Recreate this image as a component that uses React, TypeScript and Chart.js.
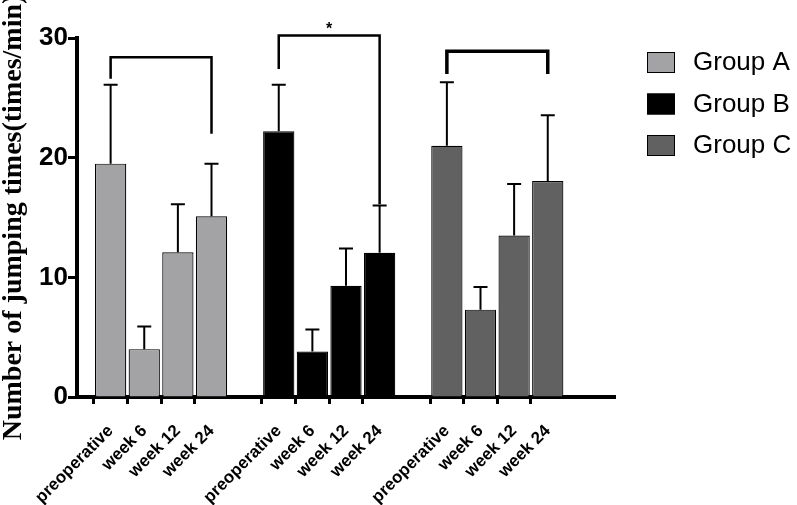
import React, { useEffect, useRef } from 'react';
import { Chart, registerables } from 'chart.js';

Chart.register(...registerables);

// ---- data ----
const timepoints = ['preoperative', 'week 6', 'week 12', 'week 24'];
const groupNames = ['Group A', 'Group B', 'Group C'];
const groupAMeans = [19.5, 4.0, 12.1, 15.1];
const groupBMeans = [22.2, 3.8, 9.3, 12.05];
const groupCMeans = [21.0, 7.3, 13.5, 18.05];
const groupAErr = [6.6, 1.9, 4.0, 4.4];
const groupBErr = [3.9, 1.85, 3.1, 3.95];
const groupCErr = [5.3, 1.9, 4.3, 5.5];
const yTicks = [0, 10, 20, 30];
// significance brackets: preoperative vs week 24 in each group
const bracketTop = [28.4, 30.2, 28.9];
const bracketLeftEnd = [26.6, 27.4, 27.0];
const bracketRightEnd = [22.0, 16.1, 27.0];
const bracketMarks = ['', '*', ''];

const groupColors = ['#a3a3a5', '#000000', '#616161'];

const allMeans = [groupAMeans, groupBMeans, groupCMeans];
const allErrs = [groupAErr, groupBErr, groupCErr];

// category axis: blank slot before each group and two at the end
const categoryLabels: string[] = [''];
groupNames.forEach(() => {
  timepoints.forEach((t) => categoryLabels.push(t));
  categoryLabels.push('');
});
categoryLabels.push('');

const slotIndex = (g: number, t: number) => 1 + g * 5 + t;

const datasetData = (g: number) => {
  const arr: (number | null)[] = categoryLabels.map(() => null);
  allMeans[g].forEach((v, t) => {
    arr[slotIndex(g, t)] = v;
  });
  return arr;
};

const overlayPlugin = {
  id: 'overlay',
  afterDatasetsDraw(chart: any) {
    const { ctx, scales } = chart;
    const x = scales.x;
    const y = scales.y;
    ctx.save();
    ctx.strokeStyle = '#000';
    ctx.lineCap = 'butt';
    // error bars (upper only)
    ctx.lineWidth = 2;
    allMeans.forEach((arr, g) => {
      arr.forEach((m, t) => {
        const px = x.getPixelForValue(slotIndex(g, t));
        const y0 = y.getPixelForValue(m);
        const y1 = y.getPixelForValue(m + allErrs[g][t]);
        ctx.beginPath();
        ctx.moveTo(px, y0);
        ctx.lineTo(px, y1);
        ctx.moveTo(px - 7, y1);
        ctx.lineTo(px + 7, y1);
        ctx.stroke();
      });
    });
    // brackets
    groupNames.forEach((_, g) => {
      const xl = x.getPixelForValue(slotIndex(g, 0));
      const xr = x.getPixelForValue(slotIndex(g, 3));
      const yt = y.getPixelForValue(bracketTop[g]);
      const yl = y.getPixelForValue(bracketLeftEnd[g]);
      const yr = y.getPixelForValue(bracketRightEnd[g]);
      ctx.lineWidth = g === 2 ? 3.5 : 2.5;
      ctx.lineJoin = 'miter';
      ctx.beginPath();
      ctx.moveTo(xl, yl);
      ctx.lineTo(xl, yt);
      ctx.lineTo(xr, yt);
      ctx.lineTo(xr, yr);
      ctx.stroke();
      if (bracketMarks[g]) {
        ctx.fillStyle = '#000';
        ctx.font = 'bold 16px "Liberation Sans", Arial, sans-serif';
        ctx.textAlign = 'center';
        ctx.textBaseline = 'bottom';
        ctx.fillText(bracketMarks[g], (xl + xr) / 2, yt + 2);
      }
    });
    ctx.restore();
  },
  afterDraw(chart: any) {
    const { ctx, chartArea } = chart;
    ctx.save();
    chart.data.datasets.forEach((ds: any, i: number) => {
      const bx = chartArea.right + 32;
      const by = chartArea.top + 14 + i * 41.5;
      ctx.fillStyle = ds.backgroundColor;
      ctx.fillRect(bx, by, 28, 21);
      ctx.strokeStyle = '#000';
      ctx.lineWidth = 1;
      ctx.strokeRect(bx + 0.5, by + 0.5, 27, 20);
      ctx.fillStyle = '#000';
      ctx.font = '26px "Liberation Sans", Arial, sans-serif';
      ctx.textAlign = 'left';
      ctx.textBaseline = 'middle';
      ctx.fillText(ds.label, bx + 46, by + 11);
    });
    ctx.restore();
  },
};

export default function App() {
  const canvasRef = useRef<HTMLCanvasElement | null>(null);

  useEffect(() => {
    if (!canvasRef.current) return;
    const chart = new Chart(canvasRef.current, {
      type: 'bar',
      data: {
        labels: categoryLabels,
        datasets: groupNames.map((name, g) => ({
          label: name,
          data: datasetData(g),
          backgroundColor: groupColors[g],
          borderColor: '#000',
          borderWidth: 1.2,
          grouped: false,
          skipNull: true,
          barPercentage: 0.93,
          categoryPercentage: 1,
        })),
      },
      options: {
        animation: false,
        responsive: false,
        devicePixelRatio: 1,
        layout: { padding: { top: 38, right: 182, left: 0, bottom: 0 } },
        plugins: {
          legend: { display: false },
          tooltip: { enabled: false },
        },
        scales: {
          x: {
            type: 'category',
            offset: false,
            grid: {
              drawOnChartArea: false,
              drawTicks: true,
              tickLength: 7,
              tickWidth: 3,
              tickColor: (c: any) => (categoryLabels[c.index] ? '#000' : 'rgba(0,0,0,0)'),
            },
            border: { color: '#000', width: 4 },
            ticks: {
              autoSkip: false,
              maxRotation: 45,
              minRotation: 45,
              padding: 17,
              color: '#000',
              font: { family: '"Liberation Sans", Arial, sans-serif', size: 17, weight: 'bold' },
            },
            afterFit: (s: any) => {
              s.height = 108;
            },
          },
          y: {
            min: 0,
            max: 30,
            afterBuildTicks: (s: any) => {
              s.ticks = yTicks.map((v) => ({ value: v }));
            },
            grid: {
              drawOnChartArea: false,
              drawTicks: true,
              tickLength: 9,
              tickWidth: 3,
              tickColor: '#000',
            },
            border: { color: '#000', width: 4 },
            ticks: {
              padding: 0,
              color: '#000',
              font: { family: '"Liberation Sans", Arial, sans-serif', size: 26, weight: 'bold' },
            },
            title: {
              display: true,
              text: 'Number of jumping times(times/min)',
              color: '#000',
              padding: 0,
              font: { family: '"Liberation Serif", "Times New Roman", serif', size: 28, weight: 'bold', lineHeight: 1 },
            },
            afterFit: (s: any) => {
              s.width = 77;
            },
          },
        },
      },
      plugins: [overlayPlugin],
    } as any);
    return () => chart.destroy();
  }, []);

  return (
    <div style={{ position: 'absolute', left: 0, top: 0, width: 797, height: 505, background: '#fff' }}>
      <canvas ref={canvasRef} width={797} height={505} />
    </div>
  );
}
